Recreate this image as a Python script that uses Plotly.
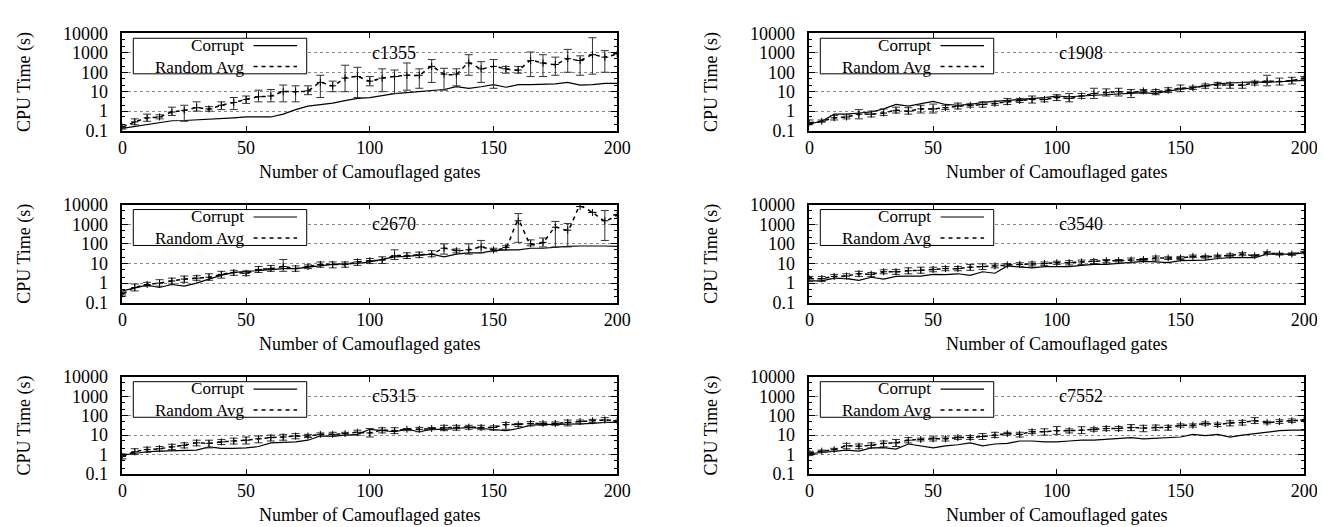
import plotly.graph_objects as go

gates = [0, 5, 10, 15, 20, 25, 30, 35, 40, 45, 50, 55, 60, 65, 70, 75, 80, 85, 90, 95, 100,
         105, 110, 115, 120, 125, 130, 135, 140, 145, 150, 155, 160, 165, 170, 175, 180, 185, 190, 195, 200]

# ---- c1355 ----
c1355_corrupt = [0.13, 0.16, 0.2, 0.25, 0.32, 0.33, 0.35, 0.37, 0.4, 0.45, 0.5, 0.52, 0.5, 0.7, 1.2, 1.8, 2.2, 2.6, 3.5, 4.5, 5,
                 6.5, 8, 9, 10, 11, 13, 18, 15, 18, 23, 17, 23, 23, 25, 25, 30, 22, 23, 27, 27]
c1355_rand = [0.15, 0.28, 0.45, 0.5, 0.9, 1.1, 1.5, 1.3, 2, 2.8, 4, 5.5, 6, 10, 10, 11, 30, 20, 50, 60, 35,
              50, 60, 70, 70, 200, 80, 80, 300, 150, 200, 150, 130, 400, 300, 250, 500, 400, 800, 600, 900]
c1355_lo = [0.12, 0.2, 0.3, 0.4, 0.6, 0.3, 1, 1, 1.2, 1.2, 2.5, 3, 3, 3, 3, 7, 5, 10, 10, 5, 20,
            10, 8, 12, 15, 30, 12, 20, 70, 30, 15, 90, 90, 60, 60, 70, 100, 70, 80, 100, 900]
c1355_hi = [0.2, 0.4, 0.7, 0.65, 1.6, 2, 3, 1.7, 3, 5, 6, 12, 13, 22, 20, 20, 70, 35, 230, 180, 60,
            150, 130, 300, 150, 450, 160, 150, 800, 350, 450, 200, 200, 1100, 800, 600, 1500, 700, 6000, 1300, 900]

# ---- c1908 ----
c1908_corrupt = [0.22, 0.3, 0.7, 0.7, 0.8, 0.9, 1.3, 2.2, 1.8, 2.3, 3.2, 2.2, 2.0, 2.2, 2.8, 3.2, 3.5, 4.0, 4.5, 5, 6,
                 5.5, 6, 6.5, 7, 8, 8.5, 9, 8, 11, 13, 16, 20, 25, 28, 30, 32, 30, 32, 35, 38]
c1908_rand = [0.25, 0.3, 0.45, 0.5, 0.7, 0.7, 0.8, 1.1, 1.0, 1.3, 1.3, 1.5, 1.8, 2, 2.2, 2.5, 3, 3.5, 4, 4, 5,
              4.5, 6, 8, 9, 10, 9, 11, 10, 12, 15, 16, 20, 22, 22, 22, 28, 35, 33, 38, 50]
c1908_lo = [0.2, 0.27, 0.35, 0.4, 0.4, 0.5, 0.6, 0.8, 0.7, 0.8, 0.8, 1.2, 1.3, 1.6, 1.6, 2, 2.2, 2.8, 2.6, 3, 3.5,
            3, 4.5, 4.5, 6, 6, 5, 8, 7, 9, 10, 13, 15, 15, 15, 15, 22, 20, 22, 25, 40]
c1908_hi = [0.35, 0.35, 0.6, 0.65, 1.2, 1, 1.3, 1.6, 1.5, 2, 2.3, 2, 2.6, 2.4, 3, 3.2, 4.5, 4.5, 6, 5, 7,
            8, 8, 15, 14, 15, 13, 13, 13, 16, 22, 19, 25, 30, 30, 30, 35, 70, 50, 55, 60]

# ---- c2670 ----
c2670_corrupt = [0.4, 0.55, 0.8, 0.6, 0.85, 0.7, 1.0, 1.6, 2.5, 3.5, 4, 4.5, 5, 5.5, 5.5, 6.5, 8, 9, 9.5, 10, 12,
                 16, 22, 23, 26, 30, 22, 30, 35, 35, 45, 50, 50, 60, 60, 70, 75, 78, 80, 78, 75]
c2670_rand = [0.28, 0.6, 0.85, 1.0, 1.3, 1.6, 1.8, 2, 2.8, 3.5, 3.2, 5, 5.5, 7, 5.5, 7, 9, 9, 9, 12, 14,
              15, 25, 25, 28, 30, 60, 45, 50, 70, 50, 65, 1500, 100, 120, 700, 500, 8000, 4000, 1500, 3000]
c2670_lo = [0.22, 0.4, 0.7, 0.7, 0.9, 1.1, 1.4, 1.4, 1.8, 2.5, 2.4, 3.5, 4, 4, 4, 5.5, 6.5, 6, 6.5, 8, 10,
            10, 16, 18, 20, 22, 30, 35, 30, 35, 40, 50, 120, 80, 70, 70, 70, 8000, 4000, 150, 3000]
c2670_hi = [0.35, 0.9, 1.1, 1.5, 1.8, 2.3, 2.4, 3, 4, 4.5, 4.2, 7, 8, 16, 7.5, 8.5, 12, 12, 12, 16, 18,
            22, 50, 35, 38, 45, 100, 55, 100, 150, 60, 80, 3500, 160, 200, 1400, 1100, 8000, 4000, 5000, 3000]

# ---- c3540 ----
c3540_corrupt = [1.3, 1.3, 1.8, 1.7, 1.4, 2, 1.6, 2.2, 2.3, 2.3, 2.8, 2.7, 3, 2.5, 3.8, 3.2, 7.5, 7, 6, 7, 7,
                 7, 8, 9, 9, 10, 11, 13, 12, 11, 14, 15, 15, 18, 20, 20, 20, 30, 30, 30, 35]
c3540_rand = [1.7, 1.7, 2.2, 2.3, 3, 2.8, 3.8, 3.8, 4.3, 4.5, 5, 5.5, 5.5, 6.5, 7, 7.5, 8.5, 9, 9.5, 10, 11,
              11, 12, 13, 14, 14, 15, 16, 19, 19, 19, 23, 22, 24, 26, 30, 25, 35, 30, 30, 38]
c3540_lo = [1.2, 1.2, 1.7, 1.7, 2.2, 2.2, 3, 2.8, 3, 3.2, 3.8, 4.3, 4.3, 4.5, 5, 6, 7, 7, 7.5, 8, 9,
            8.5, 9, 10, 11, 12, 11, 14, 15, 16, 16, 20, 19, 21, 22, 25, 22, 29, 27, 26, 32]
c3540_hi = [2.2, 2.2, 2.8, 3, 4, 3.5, 4.8, 5, 6, 6.5, 6.5, 7, 7, 9, 9.5, 9.5, 10, 11, 12, 12, 13,
            14, 15, 16, 16, 16, 19, 18, 24, 22, 23, 27, 25, 27, 31, 36, 28, 40, 34, 35, 42]

# ---- c5315 ----
c5315_corrupt = [0.95, 1.2, 1.4, 1.5, 1.6, 1.7, 1.7, 2.5, 2.1, 2.1, 2.2, 2.6, 4, 4.2, 4.5, 5.5, 9, 9, 10, 11, 20,
                 18, 15, 20, 15, 20, 20, 22, 25, 22, 20, 17, 22, 33, 35, 35, 38, 38, 40, 45, 45]
c5315_rand = [0.8, 1.4, 1.8, 2, 2.5, 3, 4, 3.8, 4.5, 5, 5.5, 6.5, 7.5, 8, 9, 9, 11, 11, 12, 14, 13,
              18, 17, 20, 20, 22, 24, 25, 26, 25, 25, 35, 35, 40, 40, 40, 45, 50, 55, 60, 55]
c5315_lo = [0.6, 1, 1.3, 1.5, 1.8, 2.2, 2.8, 2.2, 3.3, 3.5, 3.5, 4, 5, 5.5, 6.5, 7.5, 9, 8.5, 10, 10, 8,
            13, 12, 17, 15, 19, 17, 18, 20, 19, 18, 20, 28, 30, 32, 32, 30, 38, 45, 45, 55]
c5315_hi = [1.1, 2, 2.4, 2.6, 3.4, 4, 5.5, 5.5, 6, 7, 8, 9, 10, 11, 12, 11, 13, 14, 14, 18, 22,
            24, 24, 22, 25, 25, 32, 32, 32, 32, 30, 45, 40, 50, 48, 48, 60, 60, 65, 80, 55]

# ---- c7552 ----
c7552_corrupt = [1.1, 1.3, 1.5, 1.7, 1.5, 2.2, 2.3, 1.9, 3.5, 2.8, 2.2, 2.8, 3.2, 4, 2.8, 3.5, 3.8, 5, 5, 4.5, 4.5,
                 5, 5.5, 5.5, 6, 6.5, 7.5, 6.5, 7, 7.5, 8, 11, 9.5, 11, 8, 10, 12, 14, 17, 18, 18]
c7552_rand = [1.2, 1.5, 1.8, 2.8, 2.7, 3, 3.8, 4, 5.5, 6, 6.5, 6.5, 7.5, 7.5, 8.5, 10, 12, 11, 15, 15, 17,
              17, 18, 20, 22, 22, 25, 23, 25, 25, 32, 32, 40, 35, 42, 45, 55, 45, 50, 55, 60]
c7552_lo = [0.9, 1.3, 1.5, 2, 2, 2.2, 2.5, 2.6, 4, 5, 5, 5, 6, 6, 6, 7.5, 10, 8, 12, 10, 11,
            13, 12, 16, 17, 17, 17, 15, 18, 18, 26, 26, 33, 28, 30, 33, 40, 38, 40, 45, 60]
c7552_hi = [1.5, 1.7, 2.1, 3.8, 3.5, 4, 5, 6, 7.5, 7, 8, 8, 9, 9.5, 12, 14, 14, 14, 19, 21, 28,
            21, 27, 24, 28, 28, 35, 32, 33, 32, 38, 38, 48, 42, 55, 58, 80, 52, 62, 68, 60]

circuits = ["c1355", "c1908", "c2670", "c3540", "c5315", "c7552"]
corrupt_series = [c1355_corrupt, c1908_corrupt, c2670_corrupt, c3540_corrupt, c5315_corrupt, c7552_corrupt]
rand_series = [c1355_rand, c1908_rand, c2670_rand, c3540_rand, c5315_rand, c7552_rand]
lo_series = [c1355_lo, c1908_lo, c2670_lo, c3540_lo, c5315_lo, c7552_lo]
hi_series = [c1355_hi, c1908_hi, c2670_hi, c3540_hi, c5315_hi, c7552_hi]
legend_names = ["Corrupt", "Random Avg"]

x_ticks = [0, 50, 100, 150, 200]
y_ticks = [0.1, 1, 10, 100, 1000, 10000]
y_tick_text = ["0.1", "1", "10", "100", "1000", "10000"]

W, H = 1325, 527
col_px = [(111, 613), (808, 1310)]
row_px = [(16, 117), (194, 296), (373, 474)]

FONT = "Liberation Serif"
FS = 18
LFS = 17

def tfont(size=FS):
    return dict(family=FONT, size=size, color="black")

fig = go.Figure()
layout = dict(
    width=W, height=H, margin=dict(l=0, r=0, t=0, b=0),
    paper_bgcolor="white", plot_bgcolor="white", showlegend=False,
    font=tfont(),
)
shapes = []
annotations = []

for i, name in enumerate(circuits):
    r, c = divmod(i, 2)
    n = i + 1
    xa = "x" if n == 1 else f"x{n}"
    ya = "y" if n == 1 else f"y{n}"
    xk = "xaxis" if n == 1 else f"xaxis{n}"
    yk = "yaxis" if n == 1 else f"yaxis{n}"
    x0, x1 = col_px[c]
    y0, y1 = row_px[r]
    layout[xk] = dict(
        domain=[x0 / W, x1 / W], anchor=ya, range=[0, 200],
        tickvals=x_ticks, ticks="inside", ticklen=5, tickcolor="black",
        showline=True, mirror="allticks", linecolor="black", linewidth=1.5,
        showgrid=False, zeroline=False,
        title=dict(text="Number of Camouflaged gates", standoff=8, font=tfont()),
        tickfont=tfont(), ticklabelstandoff=0,
    )
    layout[yk] = dict(
        domain=[1 - y1 / H, 1 - y0 / H], anchor=xa, type="log", range=[-1, 4],
        tickvals=y_ticks, ticktext=y_tick_text, ticks="inside", ticklen=6, tickcolor="black",
        minor=dict(ticks="inside", ticklen=3, tickcolor="black", showgrid=False),
        showline=True, mirror="allticks", linecolor="black", linewidth=1.5,
        showgrid=True, gridcolor="#888", griddash="dot", gridwidth=1, zeroline=False,
        title=dict(text="CPU Time (s)", standoff=28, font=tfont()),
        tickfont=tfont(), ticklabelstandoff=9,
    )

    rand = rand_series[i]
    plus = [h - m for h, m in zip(hi_series[i], rand)]
    minus = [m - l for m, l in zip(rand, lo_series[i])]

    fig.add_trace(go.Scatter(
        x=gates, y=corrupt_series[i], mode="lines", name=legend_names[0],
        line=dict(color="black", width=1.2), xaxis=xa, yaxis=ya,
    ))
    fig.add_trace(go.Scatter(
        x=gates, y=rand, mode="lines+markers", name=legend_names[1],
        line=dict(color="black", width=1.5, dash="4px,4px", shape="spline", smoothing=0.6),
        marker=dict(symbol="cross-thin", size=5, line=dict(color="black", width=1)),
        error_y=dict(type="data", array=plus, arrayminus=minus, color="#333",
                     thickness=1, width=4),
        xaxis=xa, yaxis=ya,
    ))

    # legend box (drawn like the gnuplot key: label on the left, sample on the right)
    xd = f"{xa} domain"
    yd = f"{ya} domain"
    shapes.append(dict(type="rect", xref=xd, yref=yd, x0=0.022, x1=0.3725, y0=0.584, y1=0.95,
                       fillcolor="white", line=dict(color="black", width=1), layer="above"))
    shapes.append(dict(type="line", xref=xd, yref=yd, x0=0.265, x1=0.353, y0=0.874, y1=0.874,
                       line=dict(color="black", width=1.2), layer="above"))
    shapes.append(dict(type="line", xref=xd, yref=yd, x0=0.265, x1=0.353, y0=0.66, y1=0.66,
                       line=dict(color="black", width=1.5, dash="4px,4px"), layer="above"))
    annotations.append(dict(text="<br>".join(legend_names), xref=xd, yref=yd, x=0.25, y=0.767,
                            xanchor="right", yanchor="middle", align="right",
                            showarrow=False, font=tfont(LFS)))
    annotations.append(dict(text=name, xref=xa, yref=ya, x=100, y=3,
                            xanchor="left", yanchor="middle", showarrow=False, font=tfont()))

layout["shapes"] = shapes
layout["annotations"] = annotations
fig.update_layout(**layout)
fig.write_html("out.html")
